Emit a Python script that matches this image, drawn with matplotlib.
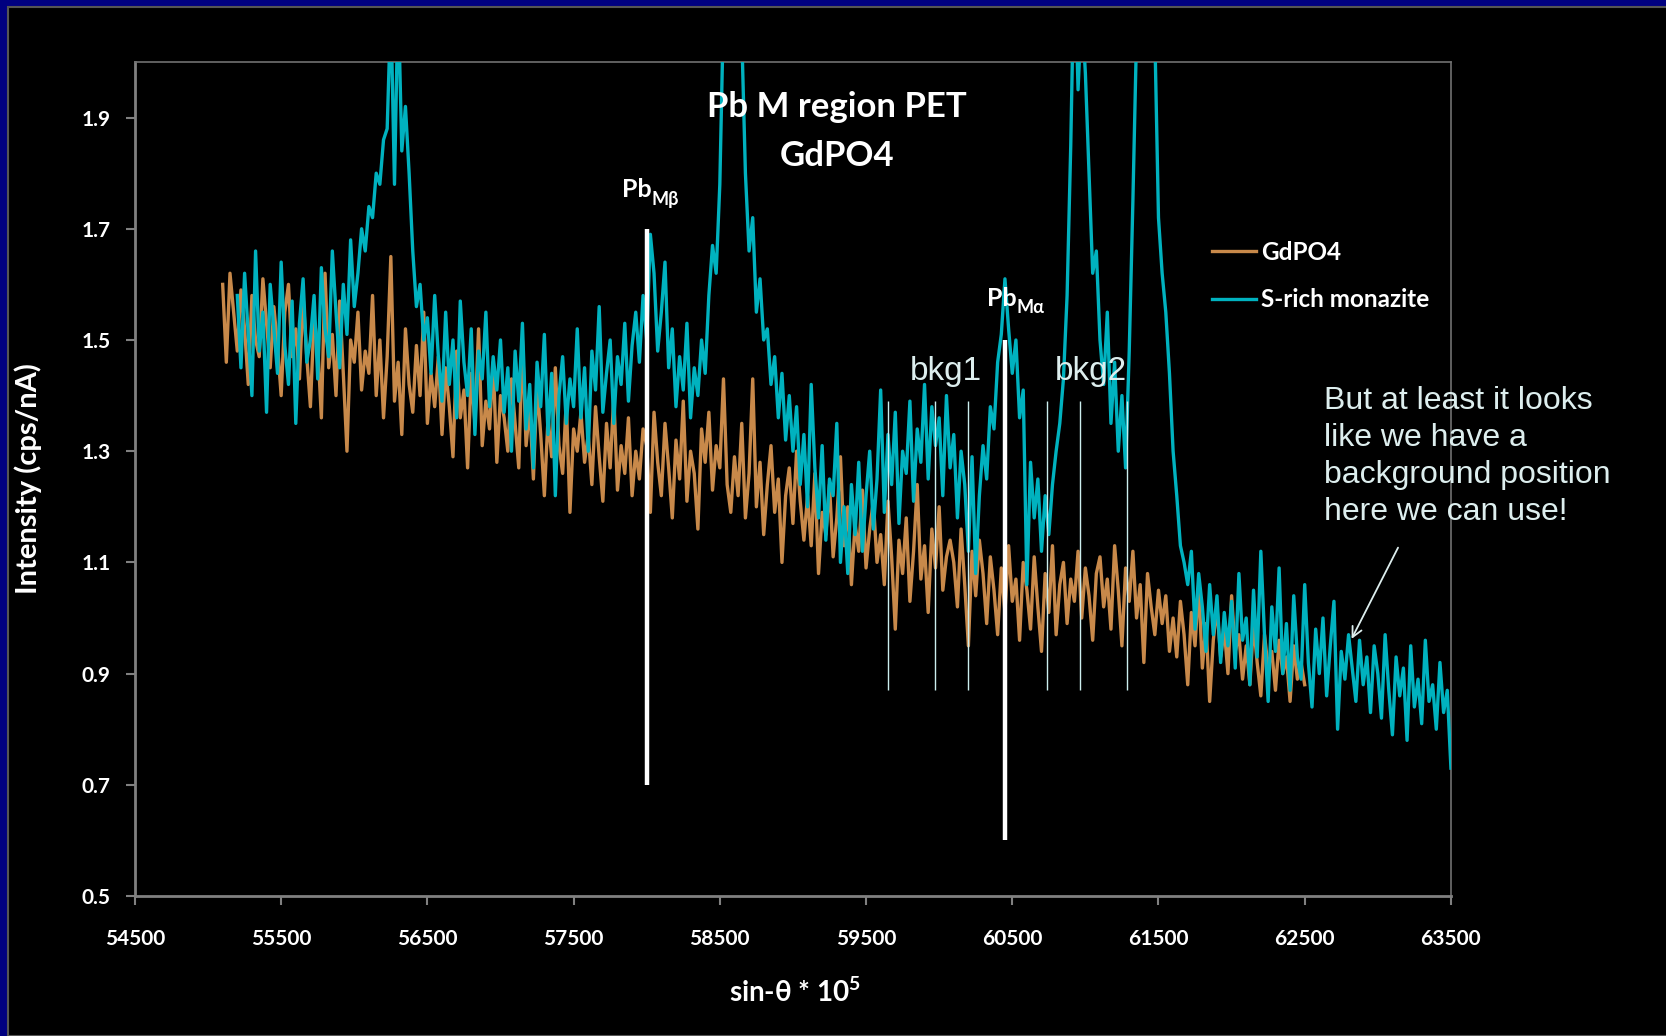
import numpy as np
import matplotlib.pyplot as plt
from matplotlib.patches import Rectangle

# Spectrum data (sin-theta * 1e5 on x, intensity cps/nA on y)
gd_start, gd_step = 55100, 25
gdpo4 = [
    1.60, 1.46, 1.62, 1.55, 1.48, 1.59, 1.52, 1.42, 1.58, 1.50, 1.47, 1.61, 1.53, 1.45, 1.56, 1.49, 1.40, 1.55, 1.60, 1.47,
    1.52, 1.43, 1.58, 1.47, 1.38, 1.54, 1.49, 1.36, 1.62, 1.45, 1.51, 1.40, 1.57, 1.44, 1.30, 1.50, 1.46, 1.55, 1.41, 1.48,
    1.44, 1.58, 1.40, 1.50, 1.36, 1.47, 1.65, 1.39, 1.46, 1.33, 1.52, 1.42, 1.37, 1.49, 1.40, 1.55, 1.35, 1.44, 1.38, 1.47,
    1.33, 1.45, 1.38, 1.29, 1.48, 1.36, 1.41, 1.27, 1.44, 1.35, 1.52, 1.31, 1.39, 1.34, 1.46, 1.28, 1.40, 1.36, 1.30, 1.43,
    1.35, 1.27, 1.50, 1.31, 1.38, 1.25, 1.42, 1.33, 1.22, 1.36, 1.29, 1.45, 1.31, 1.26, 1.39, 1.19, 1.34, 1.30, 1.37, 1.28,
    1.33, 1.24, 1.38, 1.29, 1.21, 1.35, 1.27, 1.40, 1.23, 1.31, 1.26, 1.36, 1.22, 1.30, 1.25, 1.34, 1.31, 1.19, 1.37, 1.28,
    1.22, 1.35, 1.27, 1.18, 1.32, 1.25, 1.39, 1.21, 1.30, 1.26, 1.16, 1.34, 1.28, 1.37, 1.23, 1.31, 1.27, 1.43, 1.24, 1.19,
    1.29, 1.22, 1.35, 1.18, 1.26, 1.43, 1.20, 1.28, 1.15, 1.24, 1.31, 1.19, 1.25, 1.10, 1.22, 1.27, 1.17, 1.30, 1.21, 1.14,
    1.22, 1.13, 1.26, 1.08, 1.19, 1.15, 1.24, 1.11, 1.18, 1.29, 1.13, 1.20, 1.06, 1.17, 1.12, 1.23, 1.09, 1.16, 1.21, 1.10,
    1.15, 1.06, 1.21, 1.11, 0.98, 1.14, 1.08, 1.18, 1.03, 1.12, 1.24, 1.07, 1.13, 1.01, 1.16, 1.09, 1.20, 1.05, 1.11, 1.14,
    1.10, 1.02, 1.16, 1.06, 0.95, 1.12, 1.04, 1.14, 1.08, 0.99, 1.11, 1.05, 0.97, 1.09, 1.01, 1.13, 1.03, 1.07, 0.96, 1.10,
    1.05, 0.98, 1.11, 1.02, 0.94, 1.08, 1.01, 1.13, 0.97, 1.06, 1.10, 0.99, 1.07, 1.03, 1.12, 1.00, 1.09, 1.04, 0.96, 1.08,
    1.11, 1.02, 1.07, 0.98, 1.13, 1.05, 0.95, 1.09, 1.03, 1.12, 1.00, 1.06, 0.92, 1.08, 1.02, 0.97, 1.05, 0.99, 1.04, 0.94,
    1.00, 0.93, 1.03, 0.97, 0.88, 1.01, 0.95, 1.06, 0.91, 0.99, 0.85, 0.96, 1.02, 0.93, 0.98, 0.90, 1.04, 0.94, 0.97, 0.89,
    0.95, 0.88, 0.99, 0.92, 0.86, 0.97, 0.91, 0.94, 0.87, 0.96, 0.90, 0.93, 0.85, 0.95, 0.89, 0.92, 0.88,
]

mz_start, mz_step = 55200, 25
monazite = [
    1.58, 1.45, 1.62, 1.51, 1.40, 1.66, 1.48, 1.55, 1.37, 1.60, 1.52, 1.44, 1.64, 1.49, 1.42, 1.57, 1.35, 1.53, 1.61, 1.46,
    1.50, 1.58, 1.43, 1.63, 1.52, 1.47, 1.66, 1.55, 1.45, 1.60, 1.51, 1.68, 1.56, 1.62, 1.70, 1.66,
    1.74, 1.72, 1.80, 1.78, 1.86, 1.88, 2.10, 1.78, 2.12, 1.84, 1.92, 1.80, 1.66, 1.56, 1.60, 1.50,
    1.54, 1.44, 1.58, 1.47, 1.39, 1.55, 1.42, 1.50, 1.36, 1.57, 1.46, 1.40, 1.52, 1.33, 1.48, 1.43, 1.55, 1.38, 1.47, 1.41,
    1.50, 1.37, 1.45, 1.30, 1.48, 1.39, 1.53, 1.34, 1.42, 1.27, 1.46, 1.38, 1.51, 1.33, 1.44, 1.22, 1.40, 1.47, 1.35, 1.43,
    1.38, 1.52, 1.36, 1.45, 1.30, 1.48, 1.41, 1.56, 1.37, 1.44, 1.50, 1.35, 1.47, 1.42, 1.53, 1.39, 1.49, 1.55, 1.46, 1.58,
    1.50, 1.69, 1.62, 1.48, 1.55, 1.64, 1.45, 1.52, 1.38, 1.47, 1.41, 1.53, 1.36, 1.45, 1.40, 1.50, 1.44, 1.58, 1.67, 1.62,
    1.78, 2.10, 2.30, 2.40, 2.35, 2.20, 2.05, 1.80, 1.66, 1.72, 1.55, 1.61, 1.50, 1.52, 1.42, 1.47, 1.36, 1.44, 1.32, 1.40,
    1.30, 1.38, 1.24, 1.33, 1.20, 1.42, 1.27, 1.18, 1.31, 1.14, 1.25, 1.22, 1.35, 1.10, 1.20, 1.08, 1.24, 1.15, 1.28, 1.12,
    1.22, 1.30, 1.16, 1.25, 1.41, 1.19, 1.33, 1.24, 1.37, 1.17, 1.30, 1.26, 1.39, 1.21, 1.34, 1.28, 1.42, 1.25, 1.38, 1.31,
    1.36, 1.22, 1.40, 1.27, 1.33, 1.18, 1.30, 1.24, 1.12, 1.29, 1.08, 1.22, 1.31, 1.25, 1.38, 1.34, 1.46, 1.51, 1.61, 1.52,
    1.44, 1.50, 1.36, 1.41, 1.06, 1.28, 1.18, 1.25, 1.12, 1.22, 1.15, 1.24, 1.30, 1.35, 1.43, 1.58, 1.85, 2.20, 1.95, 2.10,
    1.98, 1.80, 1.62, 1.66, 1.50, 1.42, 1.55, 1.35, 1.46, 1.30, 1.40, 1.27, 1.48, 1.75, 2.05, 2.30, 2.45, 2.40, 2.25, 2.05,
    1.72, 1.62, 1.55, 1.44, 1.30, 1.22, 1.13, 1.10, 1.06, 1.12, 0.98, 1.08, 1.02, 0.94, 1.06, 0.97, 1.04, 0.92, 1.01, 0.95,
    1.03, 0.91, 1.08, 0.96, 1.00, 0.88, 1.05, 0.93, 1.12, 0.97, 0.85, 1.02, 0.94, 1.09, 0.90, 0.99, 0.87, 1.04, 0.93, 0.89,
    1.06, 0.92, 0.84, 0.98, 0.90, 1.00, 0.86, 0.95, 1.03, 0.80, 0.94, 0.89, 0.97, 0.91, 0.85, 0.96, 0.88, 0.93, 0.83, 0.95,
    0.90, 0.82, 0.97, 0.87, 0.79, 0.93, 0.86, 0.91, 0.78, 0.95, 0.84, 0.89, 0.81, 0.96, 0.85, 0.88, 0.80, 0.92, 0.83, 0.87,
    0.73,
]

# marker lines
peak_x = [58000, 60450]
peak_lo = [0.70, 0.60]
peak_hi = [1.70, 1.50]
peak_sub = ['Mβ', 'Mα']
peak_label_pos = [(57830, 1.77), (60325, 1.575)]
bkg_x = [59650, 59975, 60195, 60740, 60960, 61285]
bkg_lo, bkg_hi = 0.87, 1.39

x_ticks = [54500, 55500, 56500, 57500, 58500, 59500, 60500, 61500, 62500, 63500]
y_ticks = [0.5, 0.7, 0.9, 1.1, 1.3, 1.5, 1.7, 1.9]

ORANGE = '#C8894A'
CYAN = '#00B2BF'
PALE = '#DDEEEE'
CHART_FONT = ['Lato', 'DejaVu Sans']
SLIDE_FONT = ['Liberation Sans', 'DejaVu Sans']

plt.rcParams['font.family'] = CHART_FONT

gd_x = gd_start + gd_step * np.arange(len(gdpo4))
mz_x = mz_start + mz_step * np.arange(len(monazite))

fig = plt.figure(figsize=(16.66, 10.36), dpi=100, facecolor='#000080')
# slide background: navy edge on top/left, black body
fig.patches.append(Rectangle((8 / 1666, 0), 1, 1 - 7 / 1036, transform=fig.transFigure,
                             facecolor='black', edgecolor='#555555', lw=1.5, zorder=-5))

ax = fig.add_axes([0.081, 0.1351, 0.7899, 0.8051])
ax.set_facecolor('black')

ax.plot(gd_x, gdpo4, color=ORANGE, lw=2.4, label='GdPO4', zorder=2)
ax.plot(mz_x, monazite, color=CYAN, lw=2.4, label='S-rich monazite', zorder=3)

ax.vlines(peak_x, peak_lo, peak_hi, colors='white', lw=3.2, zorder=5)
ax.vlines(bkg_x, bkg_lo, bkg_hi, colors='#CCEEEE', lw=1.0, zorder=5)

for px, (lx, ly), sub in zip(peak_x, peak_label_pos, peak_sub):
    t = ax.text(lx, ly, 'Pb', color='white', fontsize=18, fontweight='bold',
                ha='left', va='center', zorder=6)
    ax.annotate(sub, xy=(1, 0.08), xycoords=t, color='white', fontsize=13,
                fontweight='bold', ha='left', va='center', zorder=6)

ax.text(60043, 1.444, 'bkg1', color=PALE, fontsize=24, family=SLIDE_FONT,
        ha='center', va='center', zorder=6)
ax.text(61035, 1.444, 'bkg2', color=PALE, fontsize=24, family=SLIDE_FONT,
        ha='center', va='center', zorder=6)

ax.annotate('', xy=(62812, 0.958), xytext=(63147, 1.131),
            arrowprops=dict(arrowstyle='->', color=PALE, lw=1.3, mutation_scale=18),
            annotation_clip=False, zorder=6)

ax.set_xlim(54500, 63500)
ax.set_ylim(0.5, 2.0)
ax.set_xticks(x_ticks)
ax.set_yticks(y_ticks)
ax.tick_params(colors='#808080', length=6.5, width=1.5, direction='out')
ax.tick_params(axis='x', pad=17, labelcolor='white', labelsize=15)
ax.tick_params(axis='y', pad=11, labelcolor='white', labelsize=15)
for lab in ax.get_xticklabels() + ax.get_yticklabels():
    lab.set_fontweight('bold')

for side in ['top', 'right']:
    ax.spines[side].set_color('#707070')
    ax.spines[side].set_linewidth(1.2)
for side in ['left', 'bottom']:
    ax.spines[side].set_color('#808080')
    ax.spines[side].set_linewidth(2.0)

ax.set_ylabel('Intensity (cps/nA)', color='white', fontsize=21, fontweight='bold')
ax.yaxis.set_label_coords(-0.0707, 0.501)
ax.set_xlabel(r'sin-θ * 10$^{\mathregular{5}}$', color='white', fontsize=20, fontweight='bold')
ax.xaxis.set_label_coords(0.5015, -0.097)

leg = ax.legend(loc='center left', bbox_to_anchor=(1200 / 1666, 1 - 276 / 1036),
                bbox_transform=fig.transFigure, frameon=False, borderpad=0,
                handlelength=1.8, handletextpad=0.2, labelspacing=1.0,
                prop={'family': CHART_FONT, 'weight': 'bold', 'size': 17.5})
for txt in leg.get_texts():
    txt.set_color('white')

fig.text(837 / 1666, 1 - 107 / 1036, 'Pb M region PET', color='white', fontsize=25,
         fontweight='bold', ha='center', va='center')
fig.text(837 / 1666, 1 - 156 / 1036, 'GdPO4', color='white', fontsize=25,
         fontweight='bold', ha='center', va='center')

fig.text(1324 / 1666, 1 - 386 / 1036,
         'But at least it looks\nlike we have a\nbackground position\nhere we can use!',
         color=PALE, fontsize=23, family=SLIDE_FONT, ha='left', va='top', linespacing=1.3)

fig.savefig('out.png', dpi=100, facecolor=fig.get_facecolor())
